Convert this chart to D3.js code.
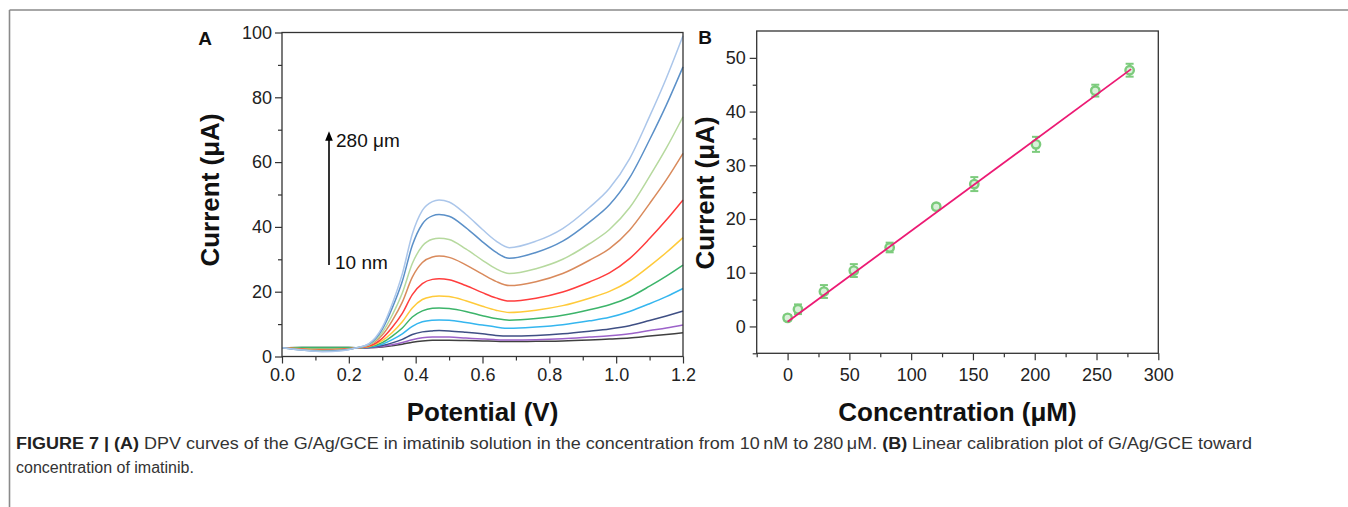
<!DOCTYPE html>
<html><head><meta charset="utf-8">
<script src="https://cdn.jsdelivr.net/npm/d3@7"></script>
<style>
html,body{margin:0;padding:0;background:#fff;}
svg{display:block;font-family:"Liberation Sans",Arial,Helvetica,sans-serif;}
</style></head>
<body>
<svg id="chart" width="1348" height="507"></svg>
<script>
// ---------- Panel A data: DPV curves ----------
const potentials = [0,0.06,0.12,0.18,0.22,0.26,0.30,0.33,0.36,0.39,0.42,0.45,0.47,0.50,0.55,0.60,0.64,0.68,0.76,0.84,0.92,0.98,1.04,1.10,1.15,1.20];
const curveLightBlue  = [2.7,2.0,1.5,1.8,2.6,4.0,9.0,16.3,25.5,37.8,45.1,47.8,48.3,47.7,43.9,39.2,35.7,33.6,35.6,39.5,46.0,51.9,61.0,74.1,85.9,99.0];
const curveSteelBlue  = [2.7,2.0,1.6,1.9,2.6,3.8,8.4,15.0,23.2,34.3,40.9,43.4,43.8,43.3,39.8,35.4,32.2,30.3,32.1,35.6,41.5,46.8,55.1,66.9,77.6,89.4];
const curveLightGreen = [2.7,2.1,1.8,2.0,2.6,3.6,7.4,12.8,19.6,28.7,34.1,36.2,36.5,36.1,33.2,29.7,27.1,25.6,27.1,30.0,34.8,39.2,45.9,55.6,64.3,74.0];
const curveOrange     = [2.7,2.2,1.9,2.1,2.6,3.5,6.6,11.1,16.8,24.5,29.0,30.7,31.0,30.6,28.3,25.4,23.2,21.9,23.1,25.6,29.7,33.3,39.0,47.2,54.5,62.7];
const curveRed        = [2.7,2.3,2.0,2.2,2.6,3.2,5.6,9.0,13.3,19.1,22.5,23.8,24.0,23.7,21.9,19.7,18.1,17.1,18.0,19.9,23.0,25.8,30.2,36.4,42.1,48.3];
const curveYellow     = [2.7,2.4,2.2,2.3,2.6,3.1,4.9,7.4,10.7,15.0,17.6,18.5,18.7,18.5,17.2,15.5,14.3,13.6,14.3,15.7,18.0,20.1,23.3,27.9,32.1,36.7];
const curveGreen      = [2.7,2.8,2.8,2.8,2.7,3.0,4.3,6.3,8.8,12.2,14.1,14.9,15.0,14.8,13.9,12.6,11.7,11.2,11.7,12.7,14.4,16.0,18.3,21.7,24.8,28.2];
const curveCyan       = [2.7,2.5,2.3,2.4,2.6,2.9,3.8,5.2,7.0,9.3,10.7,11.2,11.3,11.2,10.5,9.7,9.1,8.7,9.1,9.8,11.0,12.1,13.9,16.3,18.5,21.0];
const curveNavy       = [2.7,2.6,2.5,2.5,2.6,2.8,3.4,4.2,5.3,6.8,7.6,7.9,8.0,7.9,7.5,7.0,6.5,6.3,6.5,7.0,7.8,8.5,9.5,11.1,12.5,14.0];
const curvePurple     = [2.7,2.7,2.6,2.6,2.6,2.7,3.1,3.6,4.3,5.2,5.8,6.0,6.0,6.0,5.7,5.4,5.2,5.1,5.2,5.5,6.0,6.4,7.0,8.0,8.8,9.7];
const curveBlack      = [2.7,2.8,2.8,2.8,2.7,2.7,2.9,3.3,3.8,4.4,4.8,5.0,5.0,5.0,4.9,4.8,4.7,4.6,4.7,4.8,5.1,5.4,5.7,6.3,6.8,7.3];
const curveColors = ["#404040","#9c62c9","#3f4f84","#35b6ef","#3cb46a","#ffca3a","#ff3d3d","#d98a5c","#b6d99e","#5b90c8","#abc6ea"];
const xTicksA = [0,0.2,0.4,0.6,0.8,1.0,1.2];
const yTicksA = [0,20,40,60,80,100];

// ---------- Panel B data: calibration ----------
const concentration = [0,8.4,29.4,53.6,82.6,120.3,151.1,201,249,276.8];
const peakCurrent   = [1.6,3.2,6.5,10.4,14.7,22.3,26.5,33.9,43.9,47.7];
const currentError  = [0.5,0.9,1.2,1.2,0.9,0.5,1.3,1.4,1.1,1.2];
const fitConc    = [0,278];
const fitCurrent = [0.87,47.9];
const xTicksB = [0,50,100,150,200,250,300];
const yTicksB = [0,10,20,30,40,50];

const svg = d3.select("#chart");

// outer frame lines
svg.append("line").attr("x1",9.5).attr("x2",1348).attr("y1",10).attr("y2",10).attr("stroke","#8a8a8a").attr("stroke-width",1.6);
svg.append("line").attr("x1",9.5).attr("x2",9.5).attr("y1",10).attr("y2",507).attr("stroke","#8a8a8a").attr("stroke-width",1.6);

function styleAxis(g){
  g.select(".domain").remove();
  g.selectAll(".tick line").attr("stroke","#333").attr("stroke-width",1.2);
  g.selectAll(".tick text").attr("fill","#222").style("font-size","18px").style("font-family","'Liberation Sans',Arial,sans-serif");
}

// ---------- Panel A ----------
const xA = d3.scaleLinear().domain([0,1.2]).range([282,683]);
const yA = d3.scaleLinear().domain([0,100]).range([356.5,32.5]);
const gA = svg.append("g");

const allCurves = [curveBlack,curvePurple,curveNavy,curveCyan,curveGreen,curveYellow,curveRed,curveOrange,curveLightGreen,curveSteelBlue,curveLightBlue];
const lineA = d3.line().x(d=>xA(d[0])).y(d=>yA(d[1])).curve(d3.curveMonotoneX);
allCurves.forEach((c,i)=>{
  gA.append("path").datum(potentials.map((p,j)=>[p,c[j]]))
    .attr("fill","none").attr("stroke",curveColors[i]).attr("stroke-width",1.5).attr("d",lineA);
});

// minor ticks
gA.append("g").attr("transform","translate(0,356.5)")
  .call(d3.axisBottom(xA).tickValues([0.1,0.3,0.5,0.7,0.9,1.1]).tickSize(4).tickFormat(""))
  .call(styleAxis);
gA.append("g").attr("transform","translate(282,0)")
  .call(d3.axisLeft(yA).tickValues([10,30,50,70,90]).tickSize(4).tickFormat(""))
  .call(styleAxis);
gA.append("g").attr("transform","translate(0,356.5)")
  .call(d3.axisBottom(xA).tickValues(xTicksA).tickSize(7).tickPadding(5).tickFormat(d3.format(".1f")))
  .call(styleAxis);
gA.append("g").attr("transform","translate(282,0)")
  .call(d3.axisLeft(yA).tickValues(yTicksA).tickSize(7).tickPadding(3).tickFormat(d3.format("d")))
  .call(styleAxis);
gA.append("rect").attr("x",282).attr("y",32.5).attr("width",401).attr("height",324)
  .attr("fill","none").attr("stroke","#333").attr("stroke-width",1.3);

// annotation arrow
svg.append("defs").append("marker").attr("id","arrow").attr("viewBox","0 0 10 10")
  .attr("refX",5).attr("refY",5).attr("markerWidth",6).attr("markerHeight",6).attr("orient","auto-start-reverse")
  .append("path").attr("d","M0,1 L10,5 L0,9 Z").attr("fill","#000");
gA.append("line").attr("x1",329).attr("x2",329).attr("y1",265).attr("y2",136)
  .attr("stroke","#000").attr("stroke-width",1.6).attr("marker-end","url(#arrow)");
gA.append("text").attr("x",336).attr("y",147).text("280 μm").attr("fill","#111").style("font-size","19px");
gA.append("text").attr("x",335).attr("y",269).text("10 nm").attr("fill","#111").style("font-size","19px");

gA.append("text").attr("x",482.5).attr("y",421).attr("text-anchor","middle")
  .style("font-size","26px").style("font-weight","bold").attr("fill","#111").text("Potential (V)");
gA.append("text").attr("transform","translate(219,190) rotate(-90)").attr("text-anchor","middle")
  .style("font-size","26px").style("font-weight","bold").attr("fill","#111").text("Current (μA)");
gA.append("text").attr("x",205).attr("y",45).attr("text-anchor","middle")
  .style("font-size","19px").style("font-weight","bold").attr("fill","#111").text("A");

// ---------- Panel B ----------
const xB = d3.scaleLinear().domain([-25,300]).range([756.7,1158.3]);
const yB = d3.scaleLinear().domain([-5,55]).range([353.3,31]);
const gB = svg.append("g");

gB.append("g").attr("transform","translate(0,353.3)")
  .call(d3.axisBottom(xB).tickValues([-25,25,75,125,175,225,275]).tickSize(4).tickFormat(""))
  .call(styleAxis);
gB.append("g").attr("transform","translate(756.7,0)")
  .call(d3.axisLeft(yB).tickValues([-5,5,15,25,35,45]).tickSize(4).tickFormat(""))
  .call(styleAxis);
gB.append("g").attr("transform","translate(0,353.3)")
  .call(d3.axisBottom(xB).tickValues(xTicksB).tickSize(7).tickPadding(8).tickFormat(d3.format("d")))
  .call(styleAxis);
gB.append("g").attr("transform","translate(756.7,0)")
  .call(d3.axisLeft(yB).tickValues(yTicksB).tickSize(7).tickPadding(4).tickFormat(d3.format("d")))
  .call(styleAxis);
gB.append("rect").attr("x",756.7).attr("y",31).attr("width",401.6).attr("height",322.3)
  .attr("fill","none").attr("stroke","#333").attr("stroke-width",1.3);

const ptColor = "#7ccb7c";
const pts = concentration.map((c,i)=>({c, v:peakCurrent[i], e:currentError[i]}));
const eb = gB.selectAll(".eb").data(pts).enter().append("g");
eb.append("line").attr("x1",d=>xB(d.c)).attr("x2",d=>xB(d.c)).attr("y1",d=>yB(d.v-d.e)).attr("y2",d=>yB(d.v+d.e))
  .attr("stroke",ptColor).attr("stroke-width",2);
eb.append("line").attr("x1",d=>xB(d.c)-4).attr("x2",d=>xB(d.c)+4).attr("y1",d=>yB(d.v+d.e)).attr("y2",d=>yB(d.v+d.e))
  .attr("stroke",ptColor).attr("stroke-width",2);
eb.append("line").attr("x1",d=>xB(d.c)-4).attr("x2",d=>xB(d.c)+4).attr("y1",d=>yB(d.v-d.e)).attr("y2",d=>yB(d.v-d.e))
  .attr("stroke",ptColor).attr("stroke-width",2);
gB.selectAll(".pt").data(pts).enter().append("circle")
  .attr("cx",d=>xB(d.c)).attr("cy",d=>yB(d.v)).attr("r",4.2)
  .attr("fill","#d9f1d9").attr("stroke",ptColor).attr("stroke-width",2.4);
gB.append("path").datum(fitConc.map((c,i)=>[c,fitCurrent[i]]))
  .attr("d",d3.line().x(d=>xB(d[0])).y(d=>yB(d[1])))
  .attr("stroke","#ec1a74").attr("stroke-width",1.8).attr("fill","none");

gB.append("text").attr("x",957.5).attr("y",421).attr("text-anchor","middle")
  .style("font-size","26px").style("font-weight","bold").attr("fill","#111").text("Concentration (μM)");
gB.append("text").attr("transform","translate(714,193) rotate(-90)").attr("text-anchor","middle")
  .style("font-size","26px").style("font-weight","bold").attr("fill","#111").text("Current (μA)");
gB.append("text").attr("x",705).attr("y",44).attr("text-anchor","middle")
  .style("font-size","19px").style("font-weight","bold").attr("fill","#111").text("B");

// ---------- Caption ----------
const cap1 = svg.append("text").attr("x",16).attr("y",449).style("font-size","16px").attr("fill","#333")
  .attr("textLength",1236).attr("lengthAdjust","spacingAndGlyphs");
cap1.append("tspan").style("font-weight","bold").attr("fill","#222").text("FIGURE 7 | (A)");
cap1.append("tspan").text(" DPV curves of the G/Ag/GCE in imatinib solution in the concentration from 10\u2009nM to 280\u2009μM. ");
cap1.append("tspan").style("font-weight","bold").attr("fill","#222").text("(B)");
cap1.append("tspan").text(" Linear calibration plot of G/Ag/GCE toward");
svg.append("text").attr("x",16).attr("y",473).style("font-size","16px").attr("fill","#333").text("concentration of imatinib.");
</script>
</body></html>
